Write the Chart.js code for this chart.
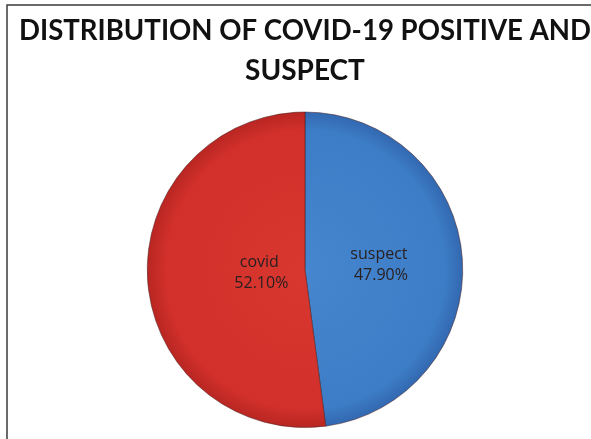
<!DOCTYPE html>
<html>
<head>
<meta charset="utf-8">
<script src="https://cdn.jsdelivr.net/npm/chart.js@4.4.1/dist/chart.umd.min.js"></script>
<style>
  html, body { margin: 0; padding: 0; background: #fff; }
  #wrap { width: 591px; height: 439px; position: relative; }
</style>
</head>
<body>
<div id="wrap"><canvas id="covidPie"></canvas></div>
<script>
const CATEGORIES = ['suspect', 'covid'];
const SHARES = [47.9, 52.1];
const TITLE_LINES = ['DISTRIBUTION OF COVID-19 POSITIVE AND', 'SUSPECT'];

// inner / mid / rim shades for each slice
const SHADES = [
    ['#4586cf', '#3d7dc7', '#3268b0'],
    ['#d8372f', '#d2302b', '#b82622'],
];

function sliceFill(ctx) {
    const area = ctx.chart.chartArea;
    if (!area) return SHADES[ctx.dataIndex][1];
    const cx = (area.left + area.right) / 2;
    const cy = (area.top + area.bottom) / 2;
    const r = Math.min(area.right - area.left, area.bottom - area.top) / 2;
    const g = ctx.chart.ctx.createRadialGradient(cx, cy, 0, cx, cy, r);
    const s = SHADES[ctx.dataIndex];
    g.addColorStop(0, s[0]);
    g.addColorStop(0.88, s[1]);
    g.addColorStop(1, s[2]);
    return g;
}

// thin frame along the top and left edge
const framePlugin = {
    id: 'frame',
    beforeDraw(chart) {
        const c = chart.ctx;
        c.save();
        c.strokeStyle = '#3a3a3a';
        c.lineWidth = 1.5;
        c.beginPath();
        c.moveTo(7, chart.height);
        c.lineTo(7, 5);
        c.lineTo(chart.width, 5);
        c.stroke();
        c.restore();
    },
};

// category name + percentage inside each slice
const sliceLabels = {
    id: 'sliceLabels',
    afterDatasetsDraw(chart, args, opts) {
        const c = chart.ctx;
        const meta = chart.getDatasetMeta(0);
        c.save();
        c.font = '16px "Open Sans", sans-serif';
        c.fillStyle = '#2a2020';
        c.textAlign = 'center';
        c.textBaseline = 'middle';
        meta.data.forEach((arc, i) => {
            const p = arc.getProps(['x', 'y', 'startAngle', 'endAngle', 'outerRadius'], true);
            const mid = (p.startAngle + p.endAngle) / 2;
            const d = p.outerRadius * opts.offsets[i];
            const x = p.x + Math.cos(mid) * d;
            const y = p.y + Math.sin(mid) * d;
            c.fillText(CATEGORIES[i], x, y - 10);
            c.fillText(SHARES[i].toFixed(2) + '%', x + 2, y + 11);
        });
        c.restore();
    },
};

new Chart(document.getElementById('covidPie'), {
    type: 'pie',
    data: {
        labels: CATEGORIES,
        datasets: [{
            data: SHARES,
            backgroundColor: sliceFill,
            borderColor: 'rgba(70,30,30,0.5)',
            borderWidth: 1,
        }],
    },
    options: {
        responsive: true,
        maintainAspectRatio: false,
        animation: false,
        layout: { padding: { top: 0, bottom: 11, left: 19, right: 0 } },
        plugins: {
            legend: { display: false },
            tooltip: { enabled: false },
            title: {
                display: true,
                text: TITLE_LINES,
                color: '#111',
                font: { family: 'Lato', size: 28, weight: 'bold', lineHeight: 1.42 },
                padding: { top: 11, bottom: 21 },
            },
            sliceLabels: { offsets: [0.47, 0.29] },
        },
    },
    plugins: [framePlugin, sliceLabels],
});
</script>
</body>
</html>
